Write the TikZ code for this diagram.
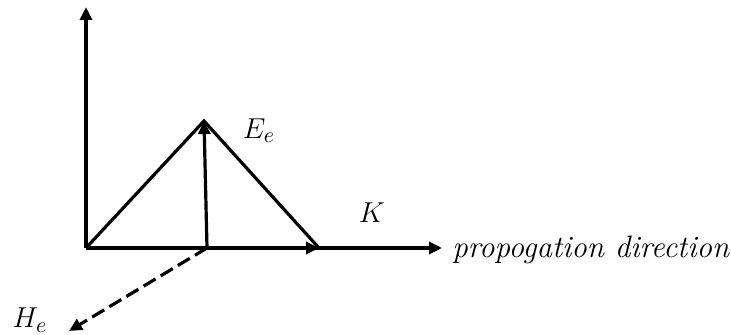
\documentclass[tikz,border=0pt]{standalone}
\usetikzlibrary{arrows.meta}
\begin{document}
\begin{tikzpicture}[x=0.5pt,y=-0.5pt,
  vec/.style={line width=1.6pt,-{Triangle[length=6.5pt,width=6pt]}},
  edge/.style={line width=1.6pt},
  lbl/.style={inner sep=0pt,font=\fontsize{15.5}{18}\selectfont}]
\useasboundingbox (0,0) rectangle (731,335);
\coordinate (O) at (86,248);
\coordinate (Ytop) at (86,7);
\coordinate (Xend) at (442,248);
\coordinate (A) at (204,121);
\coordinate (B) at (319,248);
\coordinate (M) at (207,248);
\coordinate (Hend) at (69,331);
\draw[vec] (O) -- (Ytop);
\draw[vec] (O) -- (Xend);
\draw[edge] (O) -- (A) -- (B);
\draw[vec] (O) -- (B);
\draw[vec] (M) -- (A);
\draw[vec,dashed,dash pattern=on 7pt off 3pt] (M) -- (Hend);
\node[lbl,anchor=west] (prop) at (452,250) {\textit{propogation direction}};
\node[lbl] (Ee) at (259,131) {$E_e$};
\node[lbl] (K) at (372,213) {$K$};
\node[lbl] (He) at (30,320) {$H_e$};
\end{tikzpicture}
\end{document}
